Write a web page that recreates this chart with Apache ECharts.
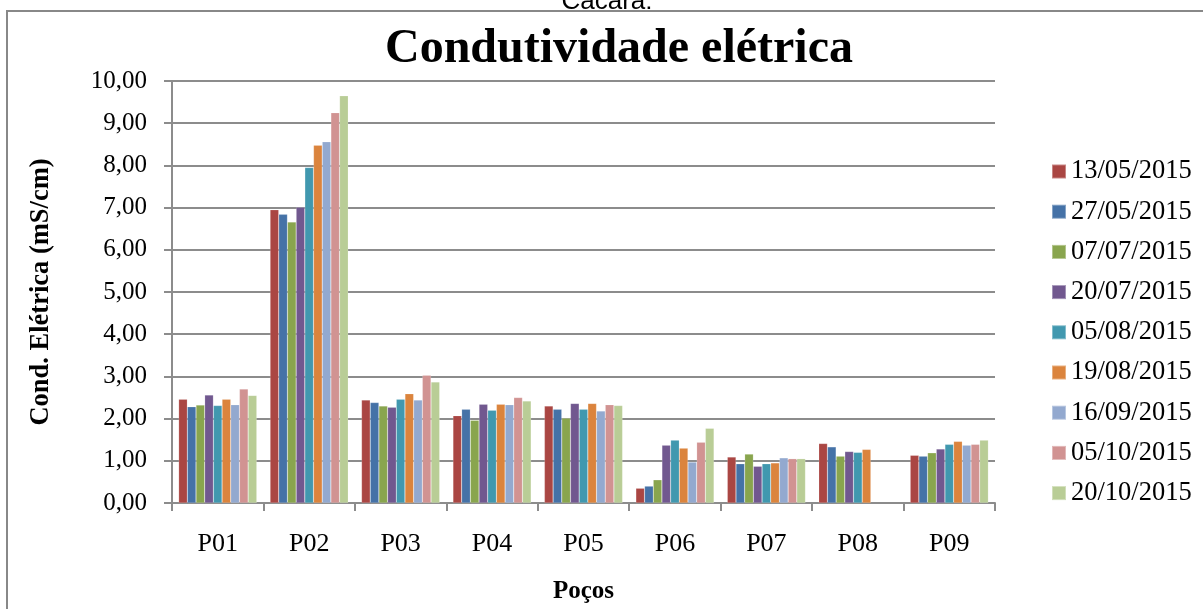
<!DOCTYPE html>
<html>
<head>
<meta charset="utf-8">
<script src="https://cdn.jsdelivr.net/npm/echarts@6/dist/echarts.min.js"></script>
<style>
  html, body { margin: 0; padding: 0; background: #fff; }
  #chart { width: 1203px; height: 609px; }
</style>
</head>
<body>
<div id="chart"></div>
<script>
// categorias (poços)
const pocos = ['P01', 'P02', 'P03', 'P04', 'P05', 'P06', 'P07', 'P08', 'P09'];

// datas de coleta
const datas = ['13/05/2015', '27/05/2015', '07/07/2015', '20/07/2015', '05/08/2015',
  '19/08/2015', '16/09/2015', '05/10/2015', '20/10/2015'];

// valores por data (mS/cm), um valor por poço
const d13_05 = [2.46, 6.95, 2.44, 2.07, 2.30, 0.35, 1.09, 1.41, 1.13];
const d27_05 = [2.28, 6.84, 2.38, 2.22, 2.22, 0.40, 0.93, 1.33, 1.11];
const d07_07 = [2.32, 6.66, 2.30, 1.96, 2.01, 0.55, 1.16, 1.11, 1.19];
const d20_07 = [2.56, 7.01, 2.27, 2.34, 2.36, 1.37, 0.87, 1.22, 1.28];
const d05_08 = [2.31, 7.95, 2.46, 2.20, 2.22, 1.49, 0.93, 1.20, 1.39];
const d19_08 = [2.46, 8.48, 2.59, 2.34, 2.36, 1.30, 0.95, 1.27, 1.46];
const d16_09 = [2.33, 8.56, 2.44, 2.33, 2.18, 0.97, 1.07, null, 1.37];
const d05_10 = [2.70, 9.25, 3.03, 2.50, 2.33, 1.44, 1.05, null, 1.39];
const d20_10 = [2.55, 9.65, 2.87, 2.42, 2.31, 1.77, 1.05, null, 1.49];

const valores = [d13_05, d27_05, d07_07, d20_07, d05_08, d19_08, d16_09, d05_10, d20_10];

const cores = ['#AA4643', '#4572A7', '#89A54E', '#71588F', '#4198AF',
  '#DB843D', '#93A9CF', '#D19392', '#B9CD96'];

const serif = '"Liberation Serif", "Times New Roman", serif';
const cinza = '#8C8C8C';

const chart = echarts.init(document.getElementById('chart'));

const option = {
  animation: false,
  color: cores,
  title: {
    text: 'Condutividade elétrica',
    left: 614,
    textAlign: 'center',
    top: 21,
    textStyle: { fontFamily: serif, fontSize: 48, fontWeight: 'bold', color: '#000' }
  },
  graphic: [
    {
      type: 'rect',
      silent: true,
      shape: { x: 7, y: 11, width: 1200, height: 620 },
      style: { fill: 'none', stroke: '#888', lineWidth: 2 }
    },
    {
      type: 'text',
      silent: true,
      x: 607,
      y: 15,
      style: {
        text: 'Cacara:',
        font: '26px "Liberation Sans", Arial, sans-serif',
        fill: '#000',
        align: 'center',
        verticalAlign: 'bottom'
      }
    }
  ],
  legend: {
    orient: 'vertical',
    left: 1051,
    top: 158,
    padding: 0,
    itemWidth: 14,
    itemHeight: 14,
    itemGap: 13.2,
    icon: 'rect',
    data: datas,
    textStyle: { fontFamily: serif, fontSize: 26.5, color: '#000', lineHeight: 26 }
  },
  grid: {
    left: 172,
    right: 208,
    top: 81,
    bottom: 104
  },
  xAxis: {
    type: 'category',
    data: pocos,
    name: 'Poços',
    nameLocation: 'middle',
    nameGap: 76,
    nameTextStyle: { fontFamily: serif, fontSize: 25, fontWeight: 'bold', color: '#000' },
    axisLine: { lineStyle: { color: cinza, width: 2 } },
    axisTick: { show: true, inside: false, length: 8, lineStyle: { color: cinza, width: 2 } },
    axisLabel: { fontFamily: serif, fontSize: 26, color: '#000', margin: 28 },
    splitLine: { show: false }
  },
  yAxis: {
    type: 'value',
    min: 0,
    max: 10,
    interval: 1,
    name: 'Cond. Elétrica (mS/cm)',
    nameLocation: 'middle',
    nameGap: 117,
    nameTextStyle: { fontFamily: serif, fontSize: 26.5, fontWeight: 'bold', color: '#000' },
    axisLine: { show: true, lineStyle: { color: cinza, width: 2 } },
    axisTick: { show: true, inside: false, length: 8, lineStyle: { color: cinza, width: 2 } },
    axisLabel: {
      fontFamily: serif,
      fontSize: 25,
      color: '#000',
      margin: 25,
      formatter: v => v.toFixed(2).replace('.', ',')
    },
    splitLine: { lineStyle: { color: cinza, width: 2 } }
  },
  series: datas.map((nome, i) => ({
    name: nome,
    type: 'bar',
    data: valores[i],
    barGap: '0%',
    barCategoryGap: '14.5%',
    itemStyle: { color: cores[i], borderColor: 'rgba(255,255,255,0.35)', borderWidth: 0.5 }
  }))
};

chart.setOption(option);
</script>
</body>
</html>
